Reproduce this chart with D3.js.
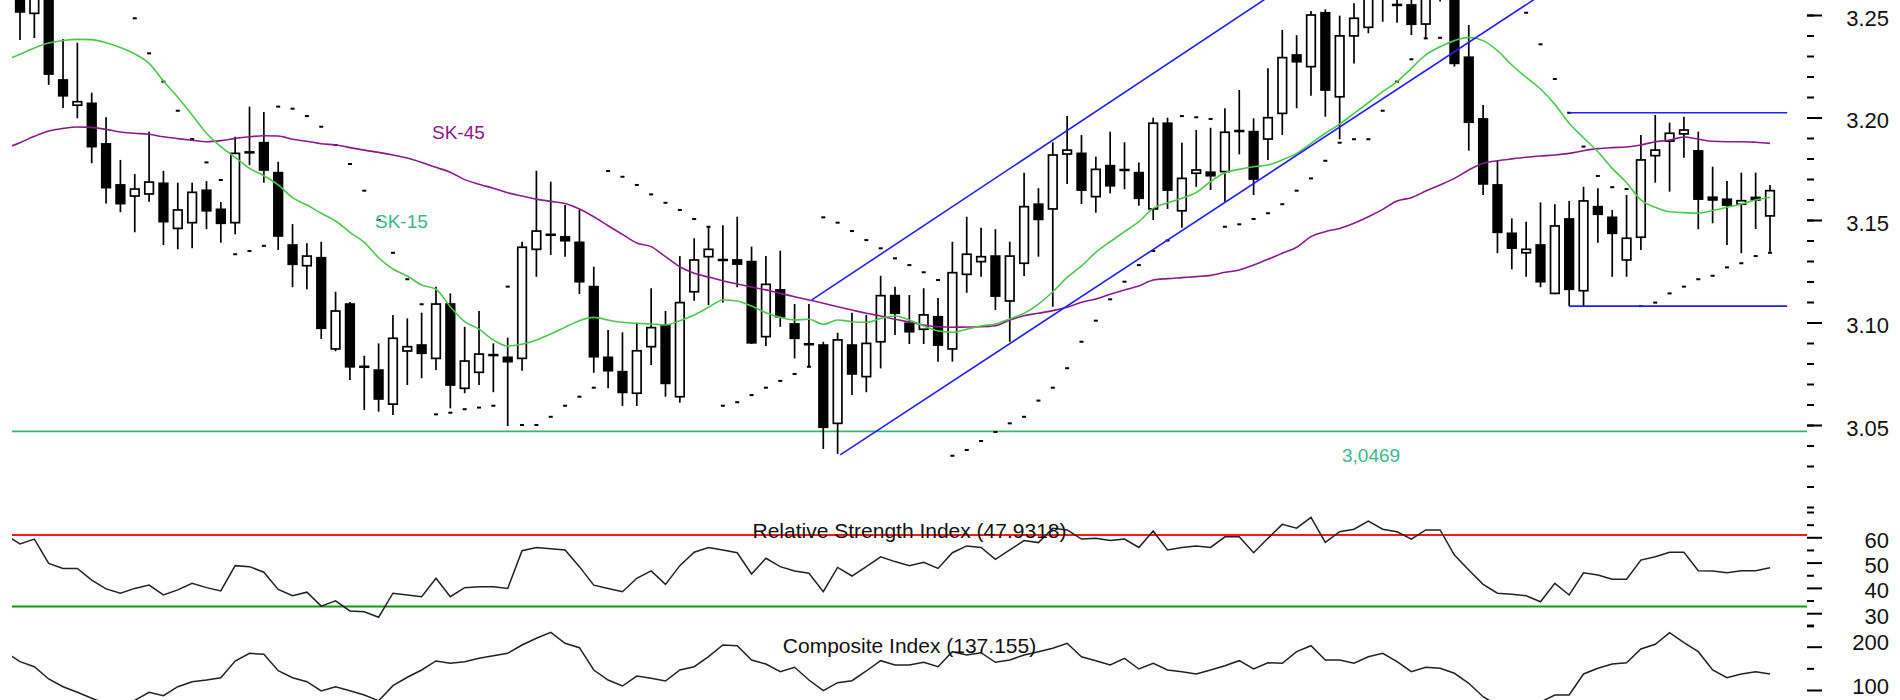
<!DOCTYPE html>
<html><head><meta charset="utf-8">
<script src="https://cdn.jsdelivr.net/npm/d3@7"></script>
<style>body{margin:0;background:#fff}svg{display:block}text{font-family:"Liberation Sans",Arial,sans-serif}</style>
</head><body><svg id="c" width="1900" height="700"></svg>
<script>
const opens=[3.262,3.2508,3.262,3.2183,3.2060,3.2069,3.1871,3.1671,3.1617,3.1627,
 3.1679,3.1459,3.1487,3.1645,3.1552,3.1487,3.1832,3.1877,3.1731,3.1378,
 3.1277,3.1316,3.0871,3.1090,3.0786,3.0768,3.0602,3.0861,3.0890,3.0825,
 3.1090,3.0679,3.0757,3.0843,3.0830,3.0825,3.1357,3.1426,3.1418,3.1391,
 3.1175,3.0830,3.0760,3.0655,3.0882,3.0988,3.0638,3.1150,3.1321,3.1307,
 3.1305,3.1297,3.0931,3.1159,3.0993,3.0896,3.0890,3.0508,3.0890,3.0736,
 3.0906,3.1131,3.0996,3.0967,3.1028,3.0871,3.1235,3.1297,3.1324,3.1105,
 3.1289,3.1577,3.1554,3.1822,3.1825,3.1614,3.1765,3.1746,3.1731,3.1554,
 3.1972,3.1545,3.1728,3.1733,3.1736,3.1936,3.1931,3.1895,3.2020,3.2305,
 3.2248,3.2511,3.2101,3.2398,3.2440,3.2620,3.2551,3.2549,3.2456,3.2620,
 3.2620,3.2294,3.1993,3.1671,3.1435,3.1340,3.1378,3.1142,3.1505,3.1155,
 3.1565,3.1513,3.1305,3.1416,3.1814,3.1885,3.1920,3.1837,3.1611,3.1601,
 3.1577,3.1610,3.1520];
const highs=[3.266,3.265,3.265,3.2383,3.2365,3.2121,3.2001,3.1793,3.1724,3.1931,
 3.1740,3.1682,3.1682,3.1690,3.1588,3.1906,3.2053,3.2027,3.1784,3.1480,
 3.1386,3.1394,3.1150,3.1100,3.0838,3.0898,3.1037,3.1020,3.1048,3.1175,
 3.1142,3.0979,3.1056,3.0898,3.0926,3.1394,3.1740,3.1687,3.1573,3.1549,
 3.1272,3.0963,3.0952,3.0999,3.1167,3.1056,3.1324,3.1411,3.1467,3.1474,
 3.1516,3.1370,3.1324,3.1350,3.1090,3.1090,3.0906,3.0950,3.1048,3.1037,
 3.1228,3.1175,3.1134,3.1167,3.1119,3.1394,3.1516,3.1462,3.1455,3.1394,
 3.1731,3.1655,3.1879,3.2007,3.1915,3.1809,3.1931,3.1879,3.1781,3.1999,
 3.1999,3.1877,3.1939,3.1950,3.2045,3.2134,3.1996,3.2240,3.2427,3.2402,
 3.2520,3.2528,3.2497,3.2557,3.2620,3.2700,3.2620,3.2590,3.2620,3.2680,
 3.2650,3.2451,3.2061,3.1793,3.1508,3.1492,3.1586,3.1577,3.1593,3.1662,
 3.1655,3.1549,3.1622,3.1915,3.2012,3.1975,3.2004,3.1931,3.1760,3.1690,
 3.1731,3.1731,3.1671];
const lows=[3.2378,3.2388,3.2159,3.2046,3.1996,3.1777,3.1581,3.1538,3.1440,3.1589,
 3.1378,3.1357,3.1362,3.1455,3.1389,3.1430,3.1768,3.1682,3.1354,3.1172,
 3.1162,3.0920,3.0860,3.0720,3.0573,3.0565,3.0549,3.0695,3.0728,3.0768,
 3.0581,3.0655,3.0695,3.0660,3.0495,3.0765,3.1223,3.1329,3.1321,3.1139,
 3.0755,3.0679,3.0593,3.0593,3.0793,3.0638,3.0609,3.1106,3.1085,3.1097,
 3.1172,3.0895,3.0885,3.0979,3.0825,3.0784,3.0383,3.0359,3.0646,3.0660,
 3.0776,3.0939,3.0895,3.0895,3.0809,3.0809,3.1145,3.1223,3.1061,3.0906,
 3.1227,3.1321,3.1077,3.1676,3.1578,3.1536,3.1630,3.1650,3.1570,3.1500,
 3.1554,3.1462,3.1662,3.1646,3.1589,3.1820,3.1622,3.1793,3.1915,3.2045,
 3.2106,3.2004,3.1894,3.2264,3.2411,3.2467,3.2462,3.2402,3.2386,3.2566,
 3.2248,3.1838,3.1622,3.1338,3.1259,3.1223,3.1172,3.1138,3.1080,3.1080,
 3.1389,3.1223,3.1223,3.1354,3.1682,3.1638,3.1804,3.1455,3.1484,3.1378,
 3.1338,3.1456,3.1345];
const closes=[3.2515,3.262,3.2212,3.2106,3.2077,3.1858,3.1658,3.1580,3.1651,3.1685,
 3.1492,3.1549,3.1635,3.1545,3.1484,3.1825,3.1828,3.1744,3.1422,3.1284,
 3.1324,3.0972,3.1056,3.0784,3.0782,3.0627,3.0923,3.0882,3.0850,3.1090,
 3.0695,3.0812,3.0846,3.0839,3.0809,3.1367,3.1446,3.1430,3.1399,3.1199,
 3.0833,3.0765,3.0659,3.0862,3.0975,3.0703,3.1097,3.1305,3.1357,3.1303,
 3.1285,3.0901,3.1186,3.1028,3.0923,3.0892,3.0489,3.0915,3.0749,3.0898,
 3.1131,3.1045,3.0955,3.1037,3.0890,3.1243,3.1333,3.1321,3.1129,3.1324,
 3.1565,3.1503,3.1817,3.1841,3.1646,3.1747,3.1667,3.1742,3.1606,3.1972,
 3.1646,3.1703,3.1744,3.1716,3.1928,3.1932,3.1700,3.1999,3.2292,3.2272,
 3.2500,3.2134,3.2398,3.2484,3.2580,3.2660,3.2547,3.2455,3.2590,3.2650,
 3.2264,3.1977,3.1676,3.1440,3.1363,3.1357,3.1199,3.1471,3.1162,3.1593,
 3.1528,3.1435,3.1411,3.1793,3.1841,3.1923,3.1939,3.1602,3.1598,3.1573,
 3.1594,3.1598,3.1643];
const sar=[null,null,null,null,null,null,null,null,3.2484,3.2313,
 3.2175,3.2033,3.1895,3.1781,3.1695,3.1333,3.1349,3.1374,3.2053,3.2043,
 3.2007,3.1955,3.1866,3.1773,3.1643,3.1500,3.1340,3.1211,3.1089,3.0552,
 3.0560,3.0577,3.0585,3.0594,3.1175,3.0500,3.0500,3.0540,3.0594,3.0638,
 3.0682,3.1739,3.1711,3.1671,3.1625,3.1584,3.1549,3.1505,3.1467,3.0594,
 3.0611,3.0646,3.0682,3.0715,3.0749,3.0784,3.1513,3.1487,3.1446,3.1402,
 3.1362,3.1313,3.1280,3.1245,3.1207,3.0350,3.0378,3.0422,3.0466,3.0508,
 3.0540,3.0619,3.0682,3.0777,3.0906,3.1009,3.1113,3.1199,3.1280,3.1349,
 3.1400,3.2007,3.2001,3.1993,3.1467,3.1479,3.1505,3.1533,3.1577,3.1643,
 3.1703,3.1789,3.1877,3.1894,3.1894,3.2033,3.2175,3.2284,3.2386,3.2389,
 null,null,null,null,null,3.2511,3.2357,3.2188,3.2023,3.1858,
 3.1715,3.1660,3.1651,3.1080,3.1097,3.1142,3.1175,3.1211,3.1228,3.1269,
 3.1289,3.1324,3.1340];
// line series start one bar before the first visible candle (index -1)
const ma15=[3.2280, 3.2308,3.2339,3.2363,3.2376,3.2381,3.2380,3.2365,3.2341,3.2310,3.2264,
 3.2178,3.2099,3.2012,3.1923,3.1858,3.1806,3.1752,3.1716,3.1671,3.1609,
 3.1573,3.1533,3.1495,3.1440,3.1391,3.1316,3.1261,3.1227,3.1183,3.1162,
 3.1077,3.1004,3.0968,3.0915,3.0885,3.0894,3.0915,3.0944,3.0977,3.1009,
 3.1025,3.1012,3.1001,3.0996,3.0993,3.0988,3.1009,3.1037,3.1074,3.1110,
 3.1105,3.1080,3.1048,3.1025,3.1012,3.1016,3.0991,3.1012,3.1004,3.1001,
 3.1020,3.1032,3.1012,3.0983,3.0959,3.0952,3.0967,3.0983,3.0993,3.1017,
 3.1045,3.1090,3.1150,3.1220,3.1276,3.1342,3.1394,3.1443,3.1492,3.1557,
 3.1584,3.1606,3.1635,3.1687,3.1731,3.1747,3.1760,3.1768,3.1793,3.1825,
 3.1874,3.1923,3.1968,3.2020,3.2072,3.2126,3.2175,3.2240,3.2305,3.2345,
 3.2375,3.2391,3.2375,3.2326,3.2256,3.2196,3.2139,3.2064,3.1972,3.1901,
 3.1833,3.1752,3.1682,3.1598,3.1562,3.1540,3.1536,3.1533,3.1546,3.1562,
 3.1578,3.1598,3.1611];
const ma45=[3.1850, 3.1877,3.1908,3.1934,3.1947,3.1954,3.1952,3.1942,3.1929,3.1923,3.1918,
 3.1906,3.1897,3.1889,3.1882,3.1887,3.1898,3.1906,3.1911,3.1910,3.1894,
 3.1884,3.1872,3.1866,3.1853,3.1841,3.1830,3.1817,3.1802,3.1781,3.1757,
 3.1733,3.1697,3.1674,3.1655,3.1633,3.1617,3.1602,3.1591,3.1580,3.1554,
 3.1516,3.1472,3.1430,3.1388,3.1370,3.1321,3.1272,3.1240,3.1222,3.1204,
 3.1188,3.1173,3.1159,3.1142,3.1126,3.1110,3.1094,3.1077,3.1061,3.1045,
 3.1032,3.1016,3.1002,3.0988,3.0979,3.0977,3.0978,3.0979,3.0984,3.1012,
 3.1033,3.1045,3.1058,3.1074,3.1099,3.1115,3.1138,3.1159,3.1178,3.1207,
 3.1214,3.1219,3.1224,3.1230,3.1245,3.1256,3.1280,3.1308,3.1338,3.1367,
 3.1419,3.1443,3.1459,3.1484,3.1516,3.1552,3.1593,3.1609,3.1641,3.1671,
 3.1703,3.1744,3.1777,3.1789,3.1798,3.1806,3.1812,3.1817,3.1825,3.1838,
 3.1848,3.1853,3.1856,3.1866,3.1882,3.1890,3.1905,3.1894,3.1884,3.1882,
 3.1882,3.1879,3.1874];
const rsi=[61.0, 57.4,59.3,49.7,47.7,47.7,43.1,39.6,37.9,39.8,41.1,
 37.2,39.2,41.8,40.1,38.8,48.8,48.4,46.2,39.4,36.9,
 38.3,32.8,34.9,30.9,30.6,28.4,37.9,37.2,36.5,43.8,
 36.5,40.1,40.5,40.5,39.8,54.7,56.0,55.5,55.0,48.4,
 41.1,39.8,38.5,43.8,46.7,41.4,48.8,54.1,56.0,55.0,
 53.9,45.5,51.7,48.4,46.7,45.8,38.5,48.1,44.7,48.4,
 52.3,50.4,48.8,50.1,47.7,53.9,56.6,56.0,51.3,55.0,
 58.7,57.9,63.6,62.9,59.3,59.6,58.7,59.3,56.0,62.5,
 55.0,56.0,56.6,56.0,60.2,60.2,53.9,59.6,65.1,63.6,
 67.9,58.0,62.2,63.2,66.4,63.2,62.2,59.3,62.9,62.9,
 53.0,47.1,41.4,37.9,37.5,36.9,34.5,41.8,37.2,46.0,
 45.1,43.4,43.4,51.0,52.3,54.1,54.1,46.8,46.7,46.0,
 46.8,46.8,47.93];
const composite=[187, 165.4,153.8,125.4,107.6,94.7,80.8,68,62,76,94.7,
 86.9,107.6,119.2,123.1,128.4,167,184.7,182.4,144.6,128.4,
 119.2,97.7,107.6,98.4,88.5,75,109.9,129.4,146.2,167,
 161.7,165.4,173.2,179.2,184.7,203.9,219.4,233.3,207.9,197.7,
 146.2,123.1,109.2,132.3,127,120.8,146.2,153.8,176.9,203.9,
 202.3,169.3,160,142.3,152.4,123.1,98.4,116.9,121.5,143.9,
 167.7,157.7,157.7,164,153.8,188.5,180.8,186.1,164,169.3,
 180.8,188.5,196.3,207.9,176.9,167.7,157.7,173.2,148.5,161.7,
 146.2,142.3,137,146.2,156.2,167.7,148.5,163,161.7,188.5,
 202.3,169.3,169.3,161.7,176.9,184.7,165.4,142.3,152.4,150.1,
 138.6,115.5,84.5,65,58,62,72,88.5,88.5,137,
 150.1,160,163,194.7,205.5,232.3,209.2,188.5,146.2,128.4,
 137,142.3,137.155];
const channelUpper=[[55.2,3.1110],[90,3.2726]];
const channelLower=[[57.18,3.0354],[108,3.2688]];
const rangeTop=[[108.0,3.2023],[123.2,3.2023]];
const rangeBottom=[[108.0,3.1080],[123.2,3.1080]];
const supportLevel=3.0469, supportLabel="3,0469";
const rsiLevels=[60.9,32.6];
const priceTickLabels=["3.05","3.10","3.15","3.20","3.25"];
const rsiTickLabels=["30","40","50","60"];
const compTickLabels=["100","200"];
const rsiTitle="Relative Strength Index (47.9318)";
const compTitle="Composite Index (137.155)";

const svg=d3.select("#c");
const plotL=12, plotR=1807;
svg.append("rect").attr("width",1900).attr("height",700).attr("fill","#fff");
svg.append("defs").append("clipPath").attr("id","clip").append("rect")
  .attr("x",plotL).attr("y",0).attr("width",plotR-plotL).attr("height",700);

const x=d3.scaleLinear().domain([0,122]).range([20,1770]);
const yP=d3.scaleLinear().domain([3.05,3.25]).range([425,15]);
const yR=d3.scaleLinear().domain([30,60]).range([613.2,537.3]);
const yC=d3.scaleLinear().domain([100,200]).range([690,646.7]);
const idx=d3.range(0,opens.length);
const lineIdx=d3.range(-1,opens.length);

const g=svg.append("g").attr("clip-path","url(#clip)");

// support line
g.append("line").attr("x1",plotL).attr("x2",plotR).attr("y1",yP(supportLevel)).attr("y2",yP(supportLevel))
  .attr("stroke","#3cb371").attr("stroke-width",1.6);

// candles
const cg=g.append("g");
cg.selectAll("line.w").data(idx).join("line").attr("class","w")
  .attr("x1",i=>x(i)).attr("x2",i=>x(i)).attr("y1",i=>yP(highs[i])).attr("y2",i=>yP(lows[i]))
  .attr("stroke","#000").attr("stroke-width",1.7);
cg.selectAll("rect.b").data(idx).join("rect").attr("class","b")
  .attr("x",i=>x(i)-4.3).attr("width",8.6)
  .attr("y",i=>yP(Math.max(opens[i],closes[i])))
  .attr("height",i=>Math.max(0.6,Math.abs(yP(opens[i])-yP(closes[i]))))
  .attr("fill",i=>closes[i]<opens[i]?"#000":"#fff")
  .attr("stroke","#000").attr("stroke-width",1.7);

// SAR dots
g.selectAll("rect.s").data(idx.filter(i=>sar[i]!=null)).join("rect").attr("class","s")
  .attr("x",i=>x(i)-2).attr("y",i=>yP(sar[i])-1).attr("width",4).attr("height",2).attr("fill","#000");

// moving averages
const lp=(arr)=>d3.line().x((d,k)=>x(lineIdx[k])).y(d=>yP(d)).curve(d3.curveMonotoneX)(arr);
g.append("path").attr("d",lp(ma45)).attr("fill","none").attr("stroke","#8a1a8a").attr("stroke-width",1.6);
g.append("path").attr("d",lp(ma15)).attr("fill","none").attr("stroke","#4cc84c").attr("stroke-width",1.6);

// trend lines
const tl=d3.line().x(d=>x(d[0])).y(d=>yP(d[1]));
[channelUpper,channelLower,rangeTop,rangeBottom].forEach(seg=>{
  g.append("path").attr("d",tl(seg)).attr("fill","none").attr("stroke","#1f1fff").attr("stroke-width",1.6);
});

// labels
svg.append("text").attr("x",432).attr("y",138.5).attr("font-size",19).attr("fill","#8a1a8a").text("SK-45");
svg.append("text").attr("x",375).attr("y",227.5).attr("font-size",19).attr("fill","#3bb88a").text("SK-15");
svg.append("text").attr("x",1342).attr("y",461.5).attr("font-size",19).attr("fill","#3bb88a").text(supportLabel);

// RSI panel
g.selectAll("line.lv").data(rsiLevels).join("line").attr("class","lv")
  .attr("x1",plotL).attr("x2",plotR).attr("y1",d=>yR(d)).attr("y2",d=>yR(d))
  .attr("stroke",(d,k)=>k===0?"#ff1a1a":"#109a10").attr("stroke-width",2);
svg.append("text").attr("x",(plotL+plotR)/2).attr("y",538).attr("text-anchor","middle")
  .attr("font-size",21).attr("fill","#111").text(rsiTitle);
const il=(sc)=>d3.line().x((d,k)=>x(lineIdx[k])).y(d=>sc(d));
g.append("path").attr("d",il(yR)(rsi)).attr("fill","none").attr("stroke","#222").attr("stroke-width",1.5);

// Composite panel
svg.append("text").attr("x",(plotL+plotR)/2).attr("y",653.3).attr("text-anchor","middle")
  .attr("font-size",21).attr("fill","#111").text(compTitle);
g.append("path").attr("d",il(yC)(composite)).attr("fill","none").attr("stroke","#222").attr("stroke-width",1.5);

// axes
const ag=svg.append("g").attr("transform",`translate(${plotR},0)`);
function drawAxis(scale,minor,major,labels,dyPx){
  const a1=ag.append("g").call(d3.axisRight(scale).tickValues(minor).tickSize(7).tickFormat(""));
  a1.select(".domain").remove();
  const a2=ag.append("g").call(d3.axisRight(scale).tickValues(major).tickSize(15).tickFormat((d,k)=>labels[k]));
  a2.select(".domain").remove();
  [a1,a2].forEach(a=>a.selectAll("line").attr("stroke","#000").attr("stroke-width",2));
  a2.selectAll("text").attr("x",82).attr("y",dyPx).attr("dy","0.32em").attr("text-anchor","end")
    .attr("font-size",22).attr("font-family","Liberation Sans, Arial, sans-serif").attr("fill","#111");
}
drawAxis(yP,d3.range(301,326).map(v=>v/100),priceTickLabels.map(Number),priceTickLabels,3);
drawAxis(yR,[25,35,45,55,65,70],rsiTickLabels.map(Number),rsiTickLabels,3);
drawAxis(yC,[150,250],compTickLabels.map(Number),compTickLabels,-4);
</script></body></html>
